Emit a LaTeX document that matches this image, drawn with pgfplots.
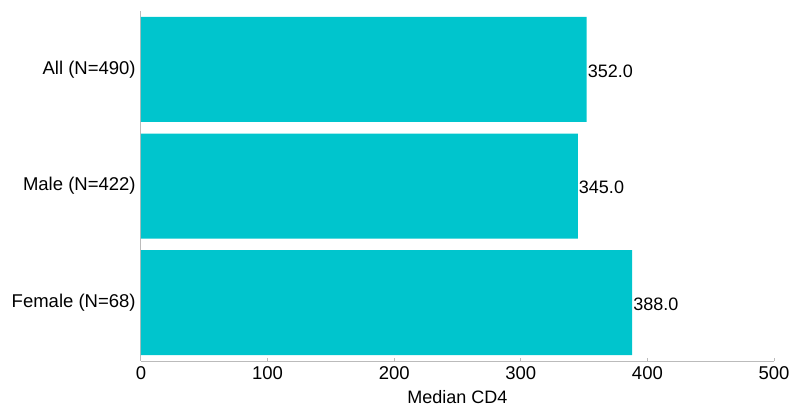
\documentclass[border=0pt]{standalone}
\usepackage{fontspec}
\setmainfont{Liberation Sans}
\usepackage{pgfplots}
\pgfplotsset{compat=1.18}
\definecolor{barc}{HTML}{00C5CD}
\definecolor{spine}{HTML}{BBBBBB}
\begin{document}
\fontsize{18.5}{22}\selectfont
\begin{tikzpicture}
\path[use as bounding box] (-141pt,-47pt) rectangle (650pt,360pt);
\begin{axis}[
  at={(0,-1pt)}, anchor=south west,
  scale only axis, width=633pt, height=350pt,
  xmin=0, xmax=500, ymin=-0.5, ymax=2.5,
  axis lines*=left,
  axis line style={spine, line width=1pt},
  xbar, bar width=105pt, bar shift=0pt,
  xtick={0,100,...,500},
  tick align=inside, major tick length=3pt,
  x tick style={spine, line width=1pt},
  ytick={0,1,2},
  yticklabels={Female (N=68), Male (N=422), All (N=490)},
  y tick style={draw=none},
  yticklabel style={xshift=1pt},
  xticklabel style={yshift=1pt},
  tick label style={font=\fontsize{18.5}{22}\selectfont},
  label style={font=\fontsize{18}{22}\selectfont},
  /pgf/number format/assume math mode=true,
  xlabel={Median CD4},
  xlabel style={yshift=2pt},
  nodes near coords,
  nodes near coords style={anchor=west, inner sep=1pt, yshift=-1.5pt, font=\fontsize{18}{22}\selectfont, /pgf/number format/fixed, /pgf/number format/fixed zerofill, /pgf/number format/precision=1},
]
\addplot[fill=barc, draw=none] coordinates {(388,0) (345,1) (352,2)};
\end{axis}
\end{tikzpicture}
\end{document}
